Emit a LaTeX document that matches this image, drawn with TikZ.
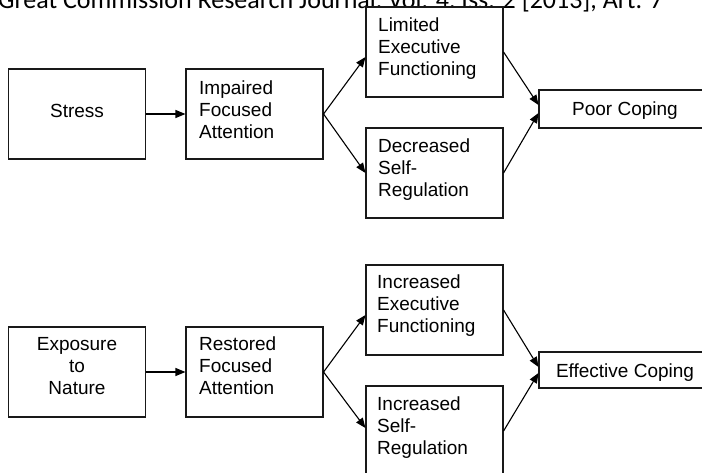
\documentclass[tikz,border=0pt]{standalone}
\usepackage{fontspec}
\setmainfont{Liberation Sans}
\newfontfamily\hdrfont{Carlito}
\usetikzlibrary{arrows.meta}
\begin{document}
\begin{tikzpicture}[x=1pt,y=-1pt,
  box/.style={draw=black!90, line width=1.1pt, rectangle, inner sep=0pt, minimum width=137pt, minimum height=90pt},
  longbox/.style={draw=black!90, line width=1.1pt, rectangle, inner sep=0pt, minimum width=172pt},
  txt/.style={inner sep=0pt, font=\fontsize{19}{22}\selectfont},
  conn/.style={draw=black, line width=1.1pt, -{Triangle[length=10pt,width=8pt]}}
]
\useasboundingbox (0,0) rectangle (702,472);
\clip (0,0) rectangle (702,472);
\fill[white] (0,0) rectangle (702,472);

% header (cut off at top)
\node[inner sep=0pt, anchor=base west, font=\hdrfont\fontsize{26}{30}\selectfont] (hdr) at (-2,8) {Great Commission Research Journal, Vol. 4, Iss. 2 [2013], Art. 7};

% top row boxes
\node[box, fill=white] (stress) at (77,114) {};
\node[box, fill=white] (impaired) at (254.5,114) {};
\node[box, fill=white] (limited) at (434.5,52) {};
\node[box, fill=white] (decreased) at (434.5,173) {};
\node[longbox, fill=white, minimum height=38pt] (poor) at (625,109) {};

% bottom row boxes
\node[box] (exposure) at (77,372) {};
\node[box] (restored) at (254.5,372) {};
\node[box] (incexec) at (434.5,310) {};
\node[box] (incself) at (434.5,431) {};
\node[longbox, minimum height=36pt] (effective) at (625,370) {};

% texts
\node[txt, anchor=base] (stressT) at (77,117) {Stress};
\node[txt, anchor=base west] (impairedT) at (199,94) {\begin{tabular}[t]{@{}l@{}}Impaired\\Focused\\Attention\end{tabular}};
\node[txt, anchor=base west] (limitedT) at (378,31) {\begin{tabular}[t]{@{}l@{}}Limited\\Executive\\Functioning\end{tabular}};
\node[txt, anchor=base west] (decreasedT) at (378,152) {\begin{tabular}[t]{@{}l@{}}Decreased\\Self-\\Regulation\end{tabular}};
\node[txt, anchor=base] (poorT) at (625,115) {Poor Coping};

\node[txt, anchor=base] (exposureT) at (77,350) {\begin{tabular}[t]{@{}c@{}}Exposure\\to\\Nature\end{tabular}};
\node[txt, anchor=base west] (restoredT) at (199,350) {\begin{tabular}[t]{@{}l@{}}Restored\\Focused\\Attention\end{tabular}};
\node[txt, anchor=base west] (incexecT) at (377,288) {\begin{tabular}[t]{@{}l@{}}Increased\\Executive\\Functioning\end{tabular}};
\node[txt, anchor=base west] (incselfT) at (377,410) {\begin{tabular}[t]{@{}l@{}}Increased\\Self-\\Regulation\end{tabular}};
\node[txt, anchor=base] (effectiveT) at (625,377) {Effective Coping};

% connectors top
\draw[conn] (stress.east) -- (impaired.west);
\draw[conn] (impaired.east) -- ([yshift=-5pt]limited.west);
\draw[conn] (impaired.east) -- (decreased.west);
\draw[conn] (limited.east) -- ([yshift=4pt]poor.west);
\draw[conn] (decreased.east) -- ([yshift=-4pt]poor.west);

% connectors bottom
\draw[conn] (exposure.east) -- (restored.west);
\draw[conn] (restored.east) -- ([yshift=-5pt]incexec.west);
\draw[conn] (restored.east) -- ([yshift=3pt]incself.west);
\draw[conn] (incexec.east) -- ([yshift=3pt]effective.west);
\draw[conn] (incself.east) -- ([yshift=-3pt]effective.west);
\end{tikzpicture}
\end{document}
